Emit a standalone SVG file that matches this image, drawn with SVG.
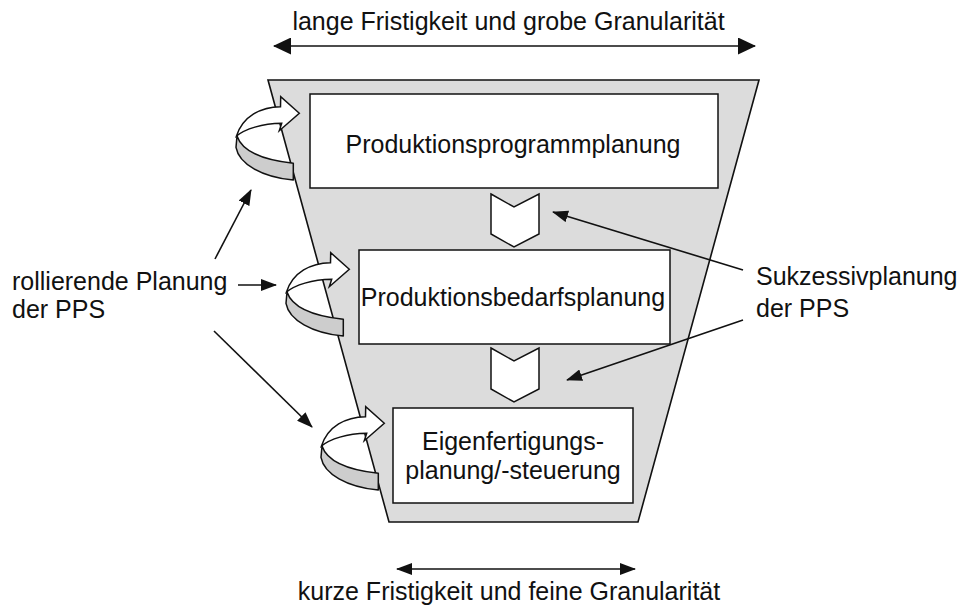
<svg xmlns="http://www.w3.org/2000/svg" xmlns:xlink="http://www.w3.org/1999/xlink" width="961" height="612" viewBox="0 0 961 612">
<style>
text { font-family: "Liberation Sans", Arial, sans-serif; font-size: 25px; fill: #111; }
.box { fill: #fff; stroke: #111; stroke-width: 1.5; }
.chev { fill: #fff; stroke: #111; stroke-width: 1.5; stroke-linejoin: miter; }
.funnel { fill: #dcdcdc; stroke: #111; stroke-width: 1.6; }
.con { stroke: #111; stroke-width: 1.6; fill: none; }
.rw { fill: #fff; stroke: #111; stroke-width: 1.5; stroke-linejoin: miter; }
.rg { fill: #cdcdcd; stroke: #111; stroke-width: 1.5; stroke-linejoin: round; }
</style>
<defs>
<marker id="ah" viewBox="0 0 16 12" refX="15" refY="6" markerWidth="16" markerHeight="12" orient="auto-start-reverse" markerUnits="userSpaceOnUse">
<path d="M0,0 L16,6 L0,12 Z" fill="#111"/>
</marker>
<marker id="ahL" viewBox="0 0 18 17" refX="17" refY="8.5" markerWidth="18" markerHeight="17" orient="auto-start-reverse" markerUnits="userSpaceOnUse">
<path d="M0,0 L18,8.5 L0,17 Z" fill="#111"/>
</marker>
<g id="roll">
<path class="rg" d="M237,136 C242,151 263,160 293.3,163.3 L293.3,180 C262,177 239,164 236,147.3 Z"/>
<path class="rw" d="M299.3,113.3 L280.7,96.7 L280.5,106.7 C261,107 243,116 236.5,136 C245,129 262,123.5 281.7,123.3 L279.3,130.7 Z"/>
</g>
</defs>

<g id="funnel">
<polygon class="funnel" points="268,80 759,80 638,522 389,522"/>
</g>

<g id="rolling-arrows">
<use xlink:href="#roll"/>
<use xlink:href="#roll" transform="translate(50,156)"/>
<use xlink:href="#roll" transform="translate(85,310)"/>
</g>

<g id="node-produktionsprogrammplanung">
<rect class="box" x="310" y="94" width="408" height="94"/>
<text x="513" y="153" text-anchor="middle">Produktionsprogrammplanung</text>
</g>

<g id="node-produktionsbedarfsplanung">
<rect class="box" x="359" y="250" width="311" height="94"/>
<text x="513" y="306" text-anchor="middle">Produktionsbedarfsplanung</text>
</g>

<g id="node-eigenfertigung">
<rect class="box" x="393" y="408" width="240" height="95"/>
<text x="513" y="450" text-anchor="middle">Eigenfertigungs-</text>
<text x="513" y="479" text-anchor="middle">planung/-steuerung</text>
</g>

<g id="chevron-1">
<polygon class="chev" points="491,194 514,207 539,194 539,234 514,247 491,234"/>
</g>
<g id="chevron-2">
<polygon class="chev" points="491,348 514,361 539,348 539,389 514,402 491,389"/>
</g>

<g id="label-top">
<text x="508.5" y="30" text-anchor="middle">lange Fristigkeit und grobe Granularität</text>
</g>
<g id="label-bottom">
<text x="509" y="600" text-anchor="middle">kurze Fristigkeit und feine Granularität</text>
</g>
<g id="label-rollierend">
<text x="12" y="290">rollierende Planung</text>
<text x="12" y="318">der PPS</text>
</g>
<g id="label-sukzessiv">
<text x="756" y="285">Sukzessivplanung</text>
<text x="756" y="317">der PPS</text>
</g>

<g id="connectors">
<line class="con" x1="274" y1="46" x2="755" y2="46" marker-start="url(#ahL)" marker-end="url(#ahL)"/>
<line class="con" x1="397" y1="569" x2="635" y2="569" marker-start="url(#ah)" marker-end="url(#ah)"/>
<line class="con" x1="215" y1="259" x2="251" y2="190" marker-end="url(#ah)"/>
<line class="con" x1="238" y1="285" x2="276" y2="285" marker-end="url(#ah)"/>
<line class="con" x1="214" y1="331" x2="312" y2="427" marker-end="url(#ah)"/>
<line class="con" x1="743" y1="270" x2="553" y2="212" marker-end="url(#ah)"/>
<line class="con" x1="743" y1="320" x2="567" y2="380" marker-end="url(#ah)"/>
</g>
</svg>
